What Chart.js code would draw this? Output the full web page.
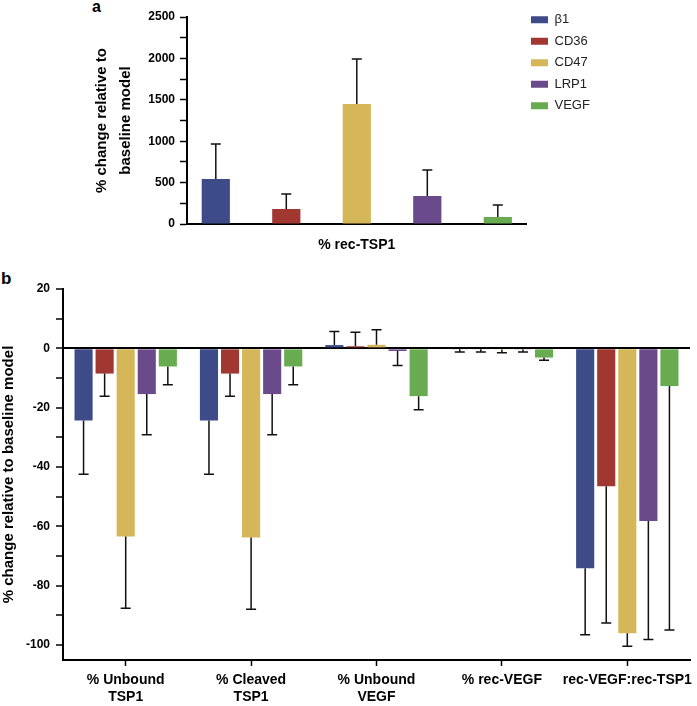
<!DOCTYPE html>
<html>
<head>
<meta charset="utf-8">
<script src="https://cdn.jsdelivr.net/npm/chart.js@4.4.1/dist/chart.umd.min.js"></script>
<style>
  body { margin: 0; background: #fff; width: 697px; height: 706px; position: relative; overflow: hidden; }
  canvas { position: absolute; left: 0; }
  #chartA { top: 0; }
  #chartB { top: 255px; }
  .panel { position: absolute; font: bold 17px "Liberation Sans", Arial, sans-serif; line-height: 17px; color: #000; }
</style>
</head>
<body>
<div class="panel" style="left:92px; top:-2px; font-size:16px;">a</div>
<div class="panel" style="left:1px; top:270px;">b</div>
<canvas id="chartA" width="697" height="255"></canvas>
<canvas id="chartB" width="697" height="451"></canvas>
<script>
// Genes (series) and their colours
const genes = ['β1', 'CD36', 'CD47', 'LRP1', 'VEGF'];
const geneColors = ['#3d4c89', '#a03730', '#d5b75a', '#6b4a8b', '#68ab50'];

// Panel a: % rec-TSP1, mean and SD per gene
const panelACategory = ['% rec-TSP1'];
const panelAValues = [543, 181, 1449, 338, 85];
const panelAErrors = [423, 181, 544, 314, 144];

// Panel b: outputs on the x axis
const panelBCategories = [['% Unbound', 'TSP1'], ['% Cleaved', 'TSP1'], ['% Unbound', 'VEGF'], '% rec-VEGF', 'rec-VEGF:rec-TSP1'];
const b1Values   = [-24.3, -24.3,  1.1, -0.3, -74.1];
const cd36Values = [ -8.5,  -8.5,  0.7, -0.3, -46.5];
const cd47Values = [-63.4, -63.7,  1.2, -0.4, -96.0];
const lrp1Values = [-15.4, -15.4, -0.9, -0.4, -58.2];
const vegfValues = [ -6.1,  -6.1, -16.1, -3.1, -12.7];
const b1Errors   = [18.1, 18.1, 4.6, 0.9, 22.4];
const cd36Errors = [ 7.6,  7.6, 4.7, 0.9, 46.0];
const cd47Errors = [24.2, 24.2, 5.1, 1.1,  4.4];
const lrp1Errors = [13.7, 13.7, 4.9, 0.8, 39.9];
const vegfErrors = [ 6.2,  6.2, 4.6, 0.9, 82.2];

Chart.defaults.font.family = '"Liberation Sans", Arial, sans-serif';
Chart.defaults.color = '#000';

// One-sided error bars, drawn away from zero
const errorBars = {
    id: 'errorBars',
    afterDatasetsDraw(chart) {
        const ctx = chart.ctx;
        const yScale = chart.scales.y;
        ctx.save();
        ctx.strokeStyle = '#111';
        ctx.lineWidth = 1.5;
        chart.data.datasets.forEach((ds, i) => {
            chart.getDatasetMeta(i).data.forEach((bar, j) => {
                const v = ds.data[j];
                const end = v + (v >= 0 ? ds.errors[j] : -ds.errors[j]);
                const yEnd = yScale.getPixelForValue(end);
                ctx.beginPath();
                ctx.moveTo(bar.x, bar.y);
                ctx.lineTo(bar.x, yEnd);
                ctx.moveTo(bar.x - 5, yEnd);
                ctx.lineTo(bar.x + 5, yEnd);
                ctx.stroke();
            });
        });
        ctx.restore();
    }
};

// Move the legend of panel a into the top right corner
const legendNudge = {
    id: 'legendNudge',
    afterLayout(chart) {
        const L = chart.legend;
        const dx = 522.5 - L.left;
        const dy = 4.7 - L.top;
        L.left += dx; L.right += dx;
        L.top += dy; L.bottom += dy;
    }
};

new Chart(document.getElementById('chartA'), {
    type: 'bar',
    data: {
        labels: panelACategory,
        datasets: genes.map((g, i) => ({
            label: g,
            data: [panelAValues[i]],
            errors: [panelAErrors[i]],
            backgroundColor: geneColors[i]
        }))
    },
    options: {
        responsive: false,
        animation: false,
        devicePixelRatio: 1,
        barPercentage: 0.4,
        categoryPercentage: 1.038,
        layout: { padding: { top: 17, left: 0, right: 93, bottom: 0 } },
        plugins: {
            legend: {
                position: 'right',
                align: 'start',
                labels: {
                    boxWidth: 17,
                    boxHeight: 7,
                    padding: 8.5,
                    color: '#222',
                    font: { size: 13 }
                }
            },
            tooltip: { enabled: false }
        },
        scales: {
            x: {
                grid: { display: false },
                border: { display: true, color: '#000', width: 2 },
                ticks: { padding: 5, font: { size: 14, weight: 'bold' } },
                afterFit: s => { s.height = 31; s.paddingLeft = 0; s.paddingRight = 0; }
            },
            y: {
                min: 0,
                max: 2500,
                grid: { drawOnChartArea: false, tickLength: 7, tickColor: '#000', tickWidth: 1.5 },
                border: { display: true, color: '#000', width: 2 },
                ticks: {
                    stepSize: 250,
                    padding: 5,
                    font: { size: 12, weight: 'bold' },
                    callback: v => (v % 500 === 0 ? v : '')
                },
                title: {
                    display: true,
                    text: ['% change relative to', 'baseline model'],
                    font: { size: 15, weight: 'bold', lineHeight: 1.6 },
                    padding: { top: 90 }
                },
                afterFit: s => { s.width = 187; s.paddingTop = 0; s.paddingBottom = 0; }
            }
        }
    },
    plugins: [errorBars, legendNudge]
});

const panelBValues = [b1Values, cd36Values, cd47Values, lrp1Values, vegfValues];
const panelBErrors = [b1Errors, cd36Errors, cd47Errors, lrp1Errors, vegfErrors];

new Chart(document.getElementById('chartB'), {
    type: 'bar',
    data: {
        labels: panelBCategories,
        datasets: genes.map((g, i) => ({
            label: g,
            data: panelBValues[i],
            errors: panelBErrors[i],
            backgroundColor: geneColors[i]
        }))
    },
    options: {
        responsive: false,
        animation: false,
        devicePixelRatio: 1,
        barPercentage: 0.86,
        categoryPercentage: 0.84,
        layout: { padding: { top: 34, left: 0, right: 7, bottom: 0 } },
        plugins: {
            legend: { display: false },
            tooltip: { enabled: false }
        },
        scales: {
            x: {
                grid: { offset: false, drawOnChartArea: false, tickLength: 6, tickColor: '#000', tickWidth: 1.5 },
                border: { display: true, color: '#000', width: 2 },
                ticks: {
                    padding: 6,
                    maxRotation: 0,
                    minRotation: 0,
                    autoSkip: false,
                    font: { size: 14, weight: 'bold', lineHeight: 1.2 }
                },
                afterFit: s => { s.height = 46; s.paddingLeft = 0; s.paddingRight = 0; }
            },
            y: {
                min: -105,
                max: 20,
                grid: {
                    color: c => (c.tick && c.tick.value === 0 ? '#000' : 'rgba(0,0,0,0)'),
                    lineWidth: c => (c.tick && c.tick.value === 0 ? 2 : 0),
                    tickLength: 7,
                    tickColor: '#000',
                    tickWidth: 1.5
                },
                border: { display: true, color: '#000', width: 2 },
                ticks: {
                    stepSize: 10,
                    padding: 6,
                    font: { size: 12, weight: 'bold' },
                    callback: v => (v % 20 === 0 ? v : (v % 10 === 0 ? '' : null))
                },
                title: {
                    display: true,
                    text: '% change relative to baseline model',
                    font: { size: 15, weight: 'bold' },
                    padding: 0
                },
                afterFit: s => { s.width = 63; s.paddingTop = 0; s.paddingBottom = 0; }
            }
        }
    },
    plugins: [errorBars]
});
</script>
</body>
</html>
